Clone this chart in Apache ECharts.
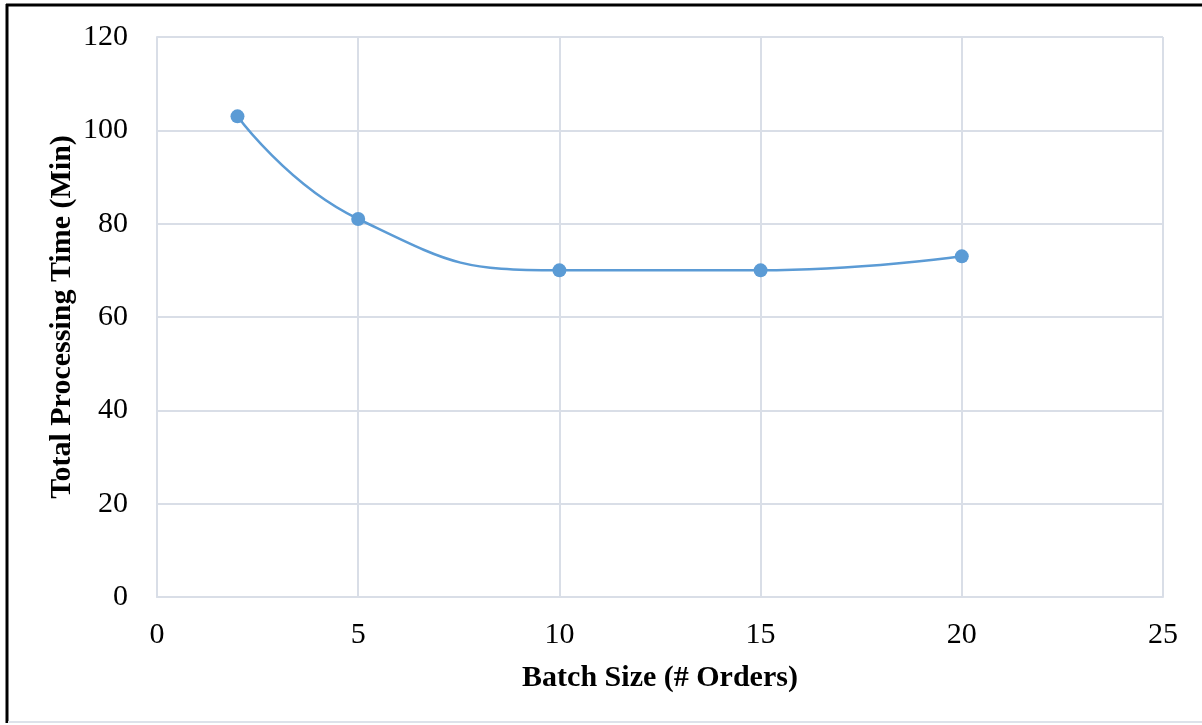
<!DOCTYPE html>
<html>
<head>
<meta charset="utf-8">
<script src="https://cdn.jsdelivr.net/npm/echarts@6/dist/echarts.min.js"></script>
<style>
html,body{margin:0;padding:0;background:#fff;}
#chart{width:1202px;height:725px;}
</style>
</head>
<body>
<div id="chart"></div>
<script>
const batchSizes = [2, 5, 10, 15, 20];
const processingTimes = [103, 81, 70, 70, 73];
const xTitle = 'Batch Size (# Orders)';
const yTitle = 'Total Processing Time (Min)';

const chart = echarts.init(document.getElementById('chart'));
const font = '"Liberation Serif", "Times New Roman", serif';
const gridColor = '#d9dee7';
chart.setOption({
  animation: false,
  backgroundColor: '#ffffff',
  grid: {left: 157, right: 39, top: 37, bottom: 128},
  xAxis: {
    type: 'value', min: 0, max: 25, interval: 5,
    name: xTitle, nameLocation: 'middle', nameGap: 66,
    nameTextStyle: {fontFamily: font, fontSize: 30, fontWeight: 'bold', color: '#000'},
    axisLine: {show: true, lineStyle: {color: gridColor, width: 2}},
    axisTick: {show: false},
    axisLabel: {fontFamily: font, fontSize: 30, color: '#000', margin: 23},
    splitLine: {show: true, lineStyle: {color: gridColor, width: 2}}
  },
  yAxis: {
    type: 'value', min: 0, max: 120, interval: 20,
    name: yTitle, nameLocation: 'middle', nameGap: 80, nameMoveOverlap: false,
    nameTextStyle: {fontFamily: font, fontSize: 30, fontWeight: 'bold', color: '#000'},
    axisLine: {show: true, lineStyle: {color: gridColor, width: 2}},
    axisTick: {show: false},
    axisLabel: {fontFamily: font, fontSize: 30, color: '#000', margin: 29},
    splitLine: {show: true, lineStyle: {color: gridColor, width: 2}}
  },
  graphic: [
    {type: 'line', shape: {x1: 6, y1: 5, x2: 1202, y2: 5}, style: {stroke: '#000', lineWidth: 3}},
    {type: 'line', shape: {x1: 7, y1: 4, x2: 7, y2: 723}, style: {stroke: '#000', lineWidth: 3}},
    {type: 'line', shape: {x1: 8, y1: 722, x2: 1202, y2: 722}, style: {stroke: '#dde2ea', lineWidth: 2}}
  ],
  series: [{
    type: 'line',
    data: batchSizes.map((x, i) => [x, processingTimes[i]]),
    smooth: 0.5,
    symbol: 'circle', symbolSize: 14,
    lineStyle: {color: '#5b9bd5', width: 2.5},
    itemStyle: {color: '#5b9bd5'}
  }]
});
</script>
</body>
</html>
